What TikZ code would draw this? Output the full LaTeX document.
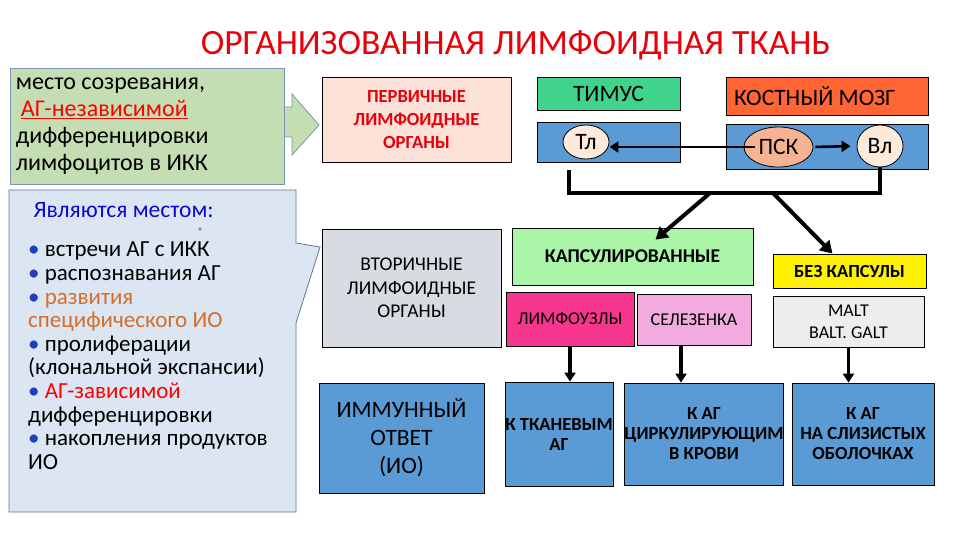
\documentclass[tikz,border=0pt]{standalone}
\usepackage{fontspec}
\setmainfont{Carlito}
\usepackage{xcolor}
\usetikzlibrary{arrows.meta, positioning, shapes.geometric}

\definecolor{titleRed}{HTML}{E8000B}
\definecolor{placeGreen}{HTML}{C4DDB3}
\definecolor{placeEdge}{HTML}{7A95B5}
\definecolor{calloutBlue}{HTML}{DCE6F2}
\definecolor{calloutEdge}{HTML}{5E7694}
\definecolor{primPink}{HTML}{FBE1D8}
\definecolor{thymGreen}{HTML}{40D38B}
\definecolor{cellBlue}{HTML}{5B9BD5}
\definecolor{marrowRed}{HTML}{FF6633}
\definecolor{pskSalmon}{HTML}{F6B394}
\definecolor{cellPeach}{HTML}{FDEADB}
\definecolor{capsGreen}{HTML}{AAF5A8}
\definecolor{nodeMagenta}{HTML}{F5358E}
\definecolor{spleenPink}{HTML}{F2AADF}
\definecolor{secGrey}{HTML}{D8DBE2}
\definecolor{maltGrey}{HTML}{EDEDED}
\definecolor{textOrange}{HTML}{D46E2A}
\definecolor{textBlue}{HTML}{0A0ACC}
\definecolor{bulletBlue}{HTML}{1F3FC0}

\tikzstyle{blk}=[rectangle, draw=black, line width=0.8pt, align=center, inner sep=1pt]
\tikzstyle{cell}=[ellipse, draw=black, line width=0.8pt, inner sep=0pt]
\tikzstyle{link}=[line width=3.2pt, -{Triangle[length=9pt,width=11pt]}]
\tikzstyle{fork}=[line width=4pt, -{Triangle[length=12pt,width=14pt]}]
\tikzstyle{bracket}=[line width=4pt]

\newcommand{\rolebullet}{\textcolor{bulletBlue}{•}\ }

\begin{document}
\begin{tikzpicture}[x=1pt, y=-1pt]

\tikzset{lbl/.style={font=\fontsize{18}{22}\selectfont}}
\tikzset{lblb/.style={font=\bfseries\fontsize{18.5}{20}\selectfont}}
\tikzset{big/.style={font=\fontsize{23.5}{28}\selectfont}}

\fill[white] (0,0) rectangle (960,540);
\useasboundingbox (0,0) rectangle (960,540);

% Title
\node[font=\fontsize{35.5}{40}\selectfont, text=titleRed] (title) at (515.5,45) {ОРГАНИЗОВАННАЯ ЛИМФОИДНАЯ ТКАНЬ};

% Left notes
\draw[fill=placeGreen, draw=placeEdge, line width=0.8pt] (280,107) -- (292,107) -- (292,94) -- (319,125) -- (292,155) -- (292,137) -- (280,137);
\node[rectangle, draw=placeEdge, fill=placeGreen, line width=0.8pt, text width=262pt, inner sep=6pt,
  minimum height=116pt, align=flush left, font=\fontsize{24}{27}\selectfont] (place) at (147,126)
  {место созревания,\\\hspace{5pt}\textcolor{red}{\underline{АГ-независимой}}\\дифференцировки\\лимфоцитов в ИКК};

\draw[fill=calloutBlue, draw=calloutEdge, line width=0.8pt] (9,190) -- (296,190) -- (296,243) -- (320,247) -- (296,323) -- (296,512) -- (9,512) -- cycle;
\node[anchor=west, text=textBlue, font=\fontsize{23.5}{24}\selectfont] (roleHead) at (30,210) {Являются местом:};
\node[circle, fill=calloutEdge!80, inner sep=1.3pt] (roleDot) at (200,229) {};
\node[anchor=north west, align=left, inner sep=0pt, font=\fontsize{23}{23.6}\selectfont] (roles) at (28,242)
  {\rolebullet встречи АГ с ИКК\\
   \rolebullet распознавания АГ\\
   \rolebullet\textcolor{textOrange}{развития}\\
   \textcolor{textOrange}{специфического ИО}\\
   \rolebullet пролиферации\\
   (клональной экспансии)\\
   \rolebullet\textcolor{red}{АГ-зависимой}\\
   дифференцировки\\
   \rolebullet накопления продуктов\\
   ИО};

% Primary organs
\node[blk, fill=primPink, minimum width=189pt, minimum height=85pt, text=titleRed,
  font=\bfseries\fontsize{18.5}{23}\selectfont] (prim) at (416.5,119.5) {ПЕРВИЧНЫЕ\\ЛИМФОИДНЫЕ\\ОРГАНЫ};
\node[blk, big, fill=thymGreen, minimum width=143pt, minimum height=33pt] (thym) at (608.5,93.5) {ТИМУС};
\node[blk, fill=cellBlue, minimum width=143pt, minimum height=40pt] (thymCells) at (608.5,142) {};
\node[cell, big, fill=cellPeach, minimum width=46pt, minimum height=34pt] (tl) at (586,142) {Тл};
\node[blk, big, fill=marrowRed, minimum width=202pt, minimum height=38pt, text width=186pt, inner xsep=8pt, align=flush left] (marrow) at (827,96) {КОСТНЫЙ МОЗГ};
\node[blk, fill=cellBlue, minimum width=202pt, minimum height=45pt] (marrowCells) at (827,146.5) {};
\node[cell, big, fill=pskSalmon, minimum width=69pt, minimum height=40pt] (psk) at (778.5,147) {ПСК};
\node[cell, big, fill=cellPeach, minimum width=46pt, minimum height=42pt] (vl) at (880,146) {Вл};

\draw[link, line width=2.6pt, shorten <=2pt, shorten >=6pt] (psk.east) -- (vl.west);
\draw[link, line width=2.6pt, shorten <=-11pt] (psk.west) -- (psk.west -| tl.east);

% Secondary organs
\node[blk, fill=secGrey, minimum width=179pt, minimum height=118pt, font=\fontsize{19.5}{23.5}\selectfont] (sec) at (411.5,288) {ВТОРИЧНЫЕ\\ЛИМФОИДНЫЕ\\ОРГАНЫ};
\node[blk, fill=capsGreen, minimum width=241pt, minimum height=57pt, font=\bfseries\fontsize{19.5}{22}\selectfont] (kaps) at (632.5,256.5) {КАПСУЛИРОВАННЫЕ};
\node[blk, lbl, fill=nodeMagenta, minimum width=128pt, minimum height=54pt] (lnodes) at (570,319) {ЛИМФОУЗЛЫ};
\node[blk, lbl, fill=spleenPink, minimum width=114pt, minimum height=51pt] (spleen) at (694,319.5) {СЕЛЕЗЕНКА};
\node[blk, lblb, fill=yellow, minimum width=153pt, minimum height=34pt] (noCaps) at (849.5,271) {БЕЗ КАПСУЛЫ};
\node[blk, lbl, fill=maltGrey, minimum width=151pt, minimum height=51pt] (malt) at (848.5,321.5) {MALT\\BALT. GALT};

% Immune response
\node[blk, big, fill=cellBlue, minimum width=165pt, minimum height=110pt] (resp) at (401.5,438) {ИММУННЫЙ\\ОТВЕТ\\(ИО)};
\node[blk, lblb, fill=cellBlue, minimum width=108pt, minimum height=104pt, inner sep=0pt] (tissue) at (559,434) {К ТКАНЕВЫМ\\АГ};
\node[blk, lblb, fill=cellBlue, minimum width=158pt, minimum height=102pt, inner sep=0pt] (blood) at (704,434) {К АГ\\ЦИРКУЛИРУЮЩИМ\\В КРОВИ};
\node[blk, lblb, fill=cellBlue, minimum width=142pt, minimum height=102pt, inner sep=0pt] (mucosa) at (863,434) {К АГ\\НА СЛИЗИСТЫХ\\ОБОЛОЧКАХ};

% Bracket and forks
\coordinate (brL) at (569,193);
\coordinate (forkA) at (710,193);
\coordinate (forkB) at (773,193);
\draw[bracket] (vl.south) |- (brL) -- ([yshift=-8pt]brL |- thymCells.south);
\draw[fork] (forkA) -- ([xshift=23pt, yshift=-12pt]kaps.north);
\draw[fork] (forkB) -- ([xshift=-17pt]noCaps.north);

% Down arrows
\draw[link] (lnodes.south) -- (lnodes.south |- tissue.north);
\draw[link] ([xshift=-13pt]spleen.south) -- ([xshift=-13pt]spleen.south |- blood.north);
\draw[link] (malt.south) -- (malt.south |- mucosa.north);

\end{tikzpicture}
\end{document}
